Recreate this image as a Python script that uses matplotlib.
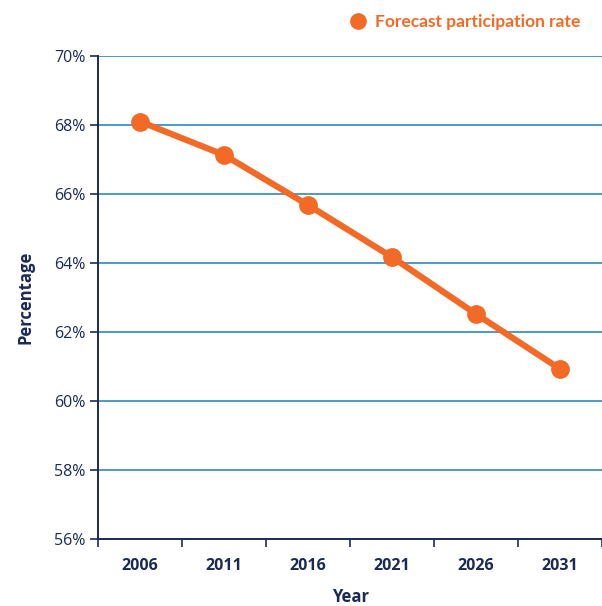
import matplotlib
matplotlib.use("Agg")
import matplotlib.pyplot as plt
from matplotlib.ticker import FixedLocator, FuncFormatter
from matplotlib.lines import Line2D

years = ["2006", "2011", "2016", "2021", "2026", "2031"]
rate = [68.1, 67.13, 65.68, 64.17, 62.52, 60.93]
series_label = "Forecast participation rate"

ORANGE = "#f26a25"
NAVY = "#1b2a55"
GRID = "#4b9bc6"

plt.rcParams["font.family"] = ["Open Sans", "DejaVu Sans"]

fig = plt.figure(figsize=(6.02, 6.06), dpi=100)
ax = fig.add_axes([0.163, 0.1106, 0.837, 0.797])

xs = list(range(len(years)))
ax.plot(xs, rate, color=ORANGE, linewidth=4.5, marker="o", markersize=12.5,
        solid_capstyle="round", zorder=5, clip_on=False)

ax.set_xlim(-0.5, len(years) - 0.5)
ax.set_ylim(56, 70)
ax.set_yticks(range(56, 71, 2))
ax.yaxis.set_major_formatter(FuncFormatter(lambda v, p: f"{v:.0f}%"))
ax.grid(axis="y", color=GRID, linewidth=1.4)
ax.set_axisbelow(True)

ax.xaxis.set_major_locator(FixedLocator([i - 0.5 for i in range(len(years) + 1)]))
ax.xaxis.set_major_formatter(FuncFormatter(lambda v, p: ""))
ax.xaxis.set_minor_locator(FixedLocator(xs))
ax.set_xticklabels(years, minor=True)
ax.tick_params(axis="x", which="minor", length=0, pad=14, labelsize=11.5,
               labelcolor=NAVY)
for t in ax.get_xticklabels(minor=True):
    t.set_fontweight("bold")
ax.tick_params(axis="x", which="major", length=6, width=1.2, color=NAVY)
ax.tick_params(axis="y", length=6, width=1.2, color=NAVY, labelsize=11.5,
               labelcolor=NAVY, pad=3)

for s in ["top", "right"]:
    ax.spines[s].set_visible(False)
for s in ["left", "bottom"]:
    ax.spines[s].set_color(NAVY)
    ax.spines[s].set_linewidth(1.4)

ax.set_xlabel("Year", fontsize=12, fontweight="bold", color=NAVY, labelpad=10)
ax.set_ylabel("Percentage", fontsize=12, fontweight="bold", color=NAVY, labelpad=14)

handle = Line2D([0], [0], marker="o", color="none", markerfacecolor=ORANGE,
                markeredgecolor=ORANGE, markersize=11)
leg = fig.legend([handle], [series_label], loc="center", bbox_to_anchor=(0.771, 0.963),
                 frameon=False, prop={"family": "Lato", "weight": "bold", "size": 12.5},
                 handletextpad=0.35, handlelength=1.2)
for t in leg.get_texts():
    t.set_color(ORANGE)

fig.savefig("out.png", dpi=100)
